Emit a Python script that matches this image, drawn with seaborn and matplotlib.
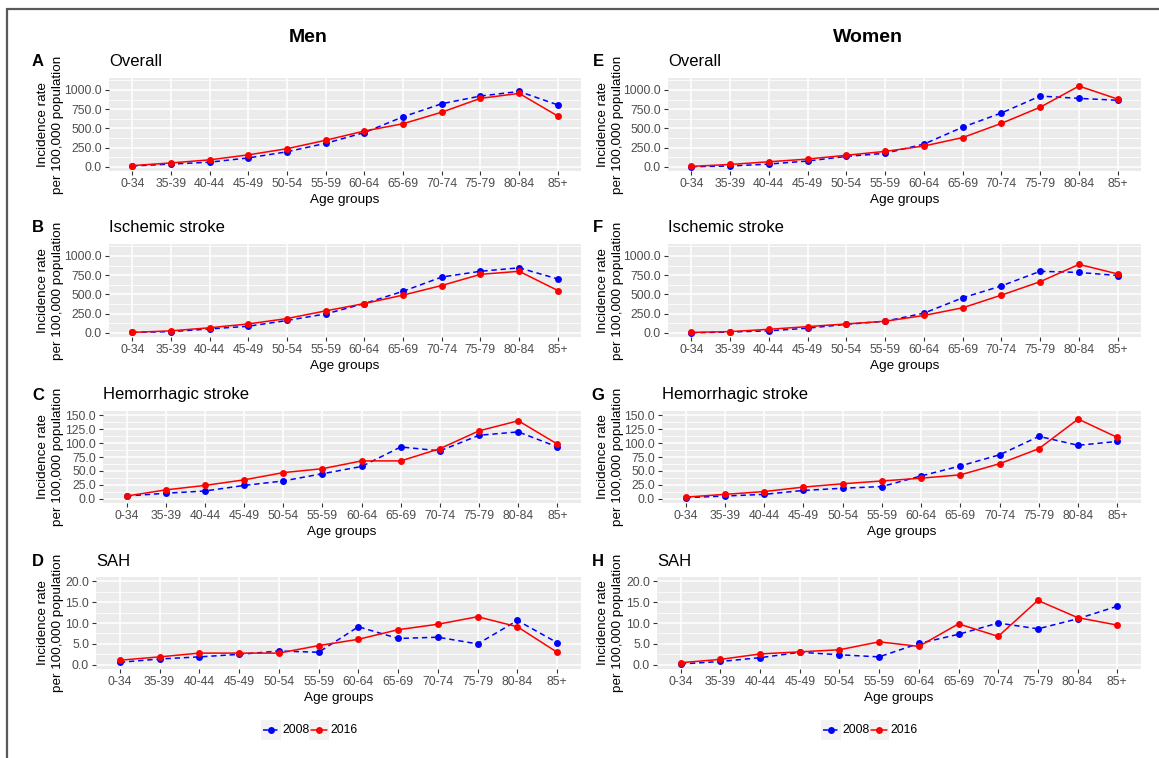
import numpy as np
import pandas as pd
import matplotlib
matplotlib.use("Agg")
import matplotlib.pyplot as plt
from matplotlib.lines import Line2D
from matplotlib.patches import Rectangle
from matplotlib.ticker import FixedLocator, FuncFormatter
import seaborn as sns

# ---- data: incidence rate per 100,000 population by age group ----
age_groups = ["0-34", "35-39", "40-44", "45-49", "50-54", "55-59",
              "60-64", "65-69", "70-74", "75-79", "80-84", "85+"]
years = ["2008", "2016"]

men_overall_2008 = [10, 35, 60, 115, 195, 305, 445, 650, 820, 920, 980, 805]
men_overall_2016 = [15, 50, 90, 155, 235, 345, 465, 560, 710, 890, 955, 660]
women_overall_2008 = [0, 10, 35, 75, 135, 175, 295, 515, 700, 920, 890, 865]
women_overall_2016 = [5, 30, 65, 100, 150, 200, 270, 380, 565, 775, 1050, 880]

men_ischemic_2008 = [5, 15, 50, 85, 160, 245, 380, 540, 725, 800, 845, 700]
men_ischemic_2016 = [5, 25, 65, 115, 185, 285, 380, 490, 615, 760, 800, 550]
women_ischemic_2008 = [0, 10, 25, 60, 110, 150, 255, 455, 610, 800, 785, 745]
women_ischemic_2016 = [5, 15, 45, 80, 115, 150, 225, 325, 490, 665, 890, 765]

men_hemorrhagic_2008 = [5, 10, 14, 24, 32, 45, 58, 93, 86, 114, 120, 93]
men_hemorrhagic_2016 = [5, 16, 24, 34, 47, 54, 68, 68, 90, 122, 140, 98]
women_hemorrhagic_2008 = [2, 5, 8, 15, 19, 22, 41, 59, 79, 112, 96, 103]
women_hemorrhagic_2016 = [3, 8, 13, 21, 27, 32, 37, 43, 63, 90, 143, 110]

men_sah_2008 = [0.6, 1.4, 1.9, 2.5, 3.3, 3.0, 9.1, 6.3, 6.6, 5.0, 10.6, 5.3]
men_sah_2016 = [1.1, 1.9, 2.8, 2.8, 2.8, 4.6, 6.1, 8.4, 9.7, 11.5, 9.1, 3.0]
women_sah_2008 = [0.2, 0.8, 1.7, 3.0, 2.4, 1.9, 5.1, 7.3, 10.0, 8.6, 11.0, 14.0]
women_sah_2016 = [0.5, 1.3, 2.6, 3.1, 3.6, 5.5, 4.4, 9.8, 6.8, 15.4, 11.3, 9.5]

subtitles = ["Overall", "Ischemic stroke", "Hemorrhagic stroke", "SAH"]
men_letters = ["A", "B", "C", "D"]
women_letters = ["E", "F", "G", "H"]
column_titles = ["Men", "Women"]
y_title_lines = ["Incidence rate", "per 100,000 population"]
x_title = "Age groups"

men_series = [(men_overall_2008, men_overall_2016),
              (men_ischemic_2008, men_ischemic_2016),
              (men_hemorrhagic_2008, men_hemorrhagic_2016),
              (men_sah_2008, men_sah_2016)]
women_series = [(women_overall_2008, women_overall_2016),
                (women_ischemic_2008, women_ischemic_2016),
                (women_hemorrhagic_2008, women_hemorrhagic_2016),
                (women_sah_2008, women_sah_2016)]

# ---- styling ----
sns.set_theme(style="darkgrid", rc={
    "axes.facecolor": "#EBEBEB",
    "grid.color": "white",
    "axes.edgecolor": "none",
})
plt.rcParams["font.family"] = ["Liberation Sans", "DejaVu Sans"]

palette = {"2008": "#0000FF", "2016": "#FF0000"}
dashes = {"2008": (3.5, 2.5), "2016": ""}
markers = {"2008": "o", "2016": "o"}
marker_size = 5.0
line_width = 1.1

W, H = 1159, 758
fig = plt.figure(figsize=(W / 100, H / 100), dpi=100)


def fx(x):
    return x / W


def fy(y):
    return 1 - y / H


def px_box(left, top, right, bottom):
    return [left / W, 1 - bottom / H, (right - left) / W, (bottom - top) / H]


# row geometry (pixels): top, bottom, y ticks, y limits
row_tops = [78, 244, 411, 577]
row_bottoms = [171, 337, 503, 669]
row_ticks = [[0, 250, 500, 750, 1000], [0, 250, 500, 750, 1000],
             [0, 25, 50, 75, 100, 125, 150], [0, 5, 10, 15, 20]]
row_limits = [(-55, 1155), (-55, 1155), (-7.5, 157.5), (-1, 21)]
men_lefts = [109, 109, 103, 96]
women_lefts = [668, 668, 662, 657]
men_right, women_right = 581, 1141
men_ylabel_x, women_ylabel_x = 43, 603
letter_x = {"men": 38, "women": 598}
title_x = [308, 868]


def minor_breaks(ticks, lim):
    step = ticks[1] - ticks[0]
    ext = [ticks[0] - step] + list(ticks) + [ticks[-1] + step]
    mids = [(a + b) / 2 for a, b in zip(ext[:-1], ext[1:])]
    return [m for m in mids if lim[0] <= m <= lim[1]]


def draw_panel(left, right, top, bottom, series, ticks, lim):
    ax = fig.add_axes(px_box(left, top, right, bottom))
    df = pd.DataFrame({
        "age": age_groups * 2,
        "rate": list(series[0]) + list(series[1]),
        "year": [years[0]] * len(age_groups) + [years[1]] * len(age_groups),
    })
    sns.lineplot(data=df, x="age", y="rate", hue="year", style="year",
                 hue_order=years, style_order=years,
                 palette=palette, dashes=dashes, markers=markers,
                 markersize=marker_size, markeredgewidth=0, linewidth=line_width,
                 sort=False, legend=False, ax=ax)
    ax.set_xlim(-0.6, len(age_groups) - 0.4)
    ax.set_ylim(*lim)
    ax.set_yticks(ticks)
    ax.yaxis.set_minor_locator(FixedLocator(minor_breaks(ticks, lim)))
    ax.yaxis.set_major_formatter(FuncFormatter(lambda v, p: f"{v:.1f}"))
    ax.grid(which="major", color="white", linewidth=1.1)
    ax.grid(which="minor", axis="y", color="white", linewidth=0.55)
    ax.set_axisbelow(True)
    for s in ax.spines.values():
        s.set_visible(False)
    ax.tick_params(which="major", length=3, width=0.8, color="#333333",
                   labelcolor="#4D4D4D", labelsize=8.8, pad=2,
                   bottom=True, left=True)
    ax.tick_params(which="minor", length=0)
    ax.set_xlabel("")
    ax.set_ylabel("")
    return ax


for col, (series_list, lefts, right, letters, ylab_x, lx) in enumerate([
        (men_series, men_lefts, men_right, men_letters, men_ylabel_x, letter_x["men"]),
        (women_series, women_lefts, women_right, women_letters, women_ylabel_x, letter_x["women"])]):
    fig.text(fx(title_x[col]), fy(37), column_titles[col], ha="center", va="center",
             fontsize=14, fontweight="bold", color="black")
    for r in range(4):
        top, bottom, left = row_tops[r], row_bottoms[r], lefts[r]
        draw_panel(left, right, top, bottom, series_list[r], row_ticks[r], row_limits[r])
        fig.text(fx(lx), fy(top - 16), letters[r], ha="center", va="center",
                 fontsize=12, fontweight="bold", color="black")
        fig.text(fx(left), fy(top - 16), subtitles[r], ha="left", va="center",
                 fontsize=12, color="black")
        # two-line y-axis title, one text per line
        for i, line in enumerate(y_title_lines):
            fig.text(fx(ylab_x + 15.5 * i), fy((top + bottom) / 2), line,
                     ha="center", va="center", rotation=90, fontsize=9.7,
                     color="black")
        fig.text(fx((left + right) / 2), fy(bottom + 29), x_title, ha="center",
                 va="center", fontsize=9.7, color="black")

    # legend below each column
    lc = title_x[col]
    key_w, key_h = 20, 20
    key_y = 720
    entries = [(lc - 47, years[0]), (lc + 1, years[1])]
    for kx, yr in entries:
        fig.add_artist(Rectangle((fx(kx), fy(key_y + key_h)), key_w / W, key_h / H,
                                 transform=fig.transFigure, facecolor="#F2F2F2",
                                 edgecolor="none"))
        ls = (0, dashes[yr]) if dashes[yr] else "-"
        fig.add_artist(Line2D([fx(kx + 2), fx(kx + key_w - 2)],
                              [fy(key_y + key_h / 2)] * 2, transform=fig.transFigure,
                              color=palette[yr], linewidth=line_width, linestyle=ls))
        fig.add_artist(Line2D([fx(kx + key_w / 2)], [fy(key_y + key_h / 2)],
                              transform=fig.transFigure, color=palette[yr],
                              marker="o", markersize=marker_size, markeredgewidth=0,
                              linestyle="none"))
        fig.text(fx(kx + key_w + 1.5), fy(key_y + key_h / 2), yr, ha="left",
                 va="center", fontsize=8.8, color="black")

# outer frame (top and left edges)
fig.add_artist(Line2D([fx(7), fx(7)], [0, fy(9)], transform=fig.transFigure,
                      color="#595959", linewidth=1.6))
fig.add_artist(Line2D([fx(7), 1], [fy(9), fy(9)], transform=fig.transFigure,
                      color="#595959", linewidth=1.6))

fig.savefig("out.png", dpi=100, facecolor="white")
